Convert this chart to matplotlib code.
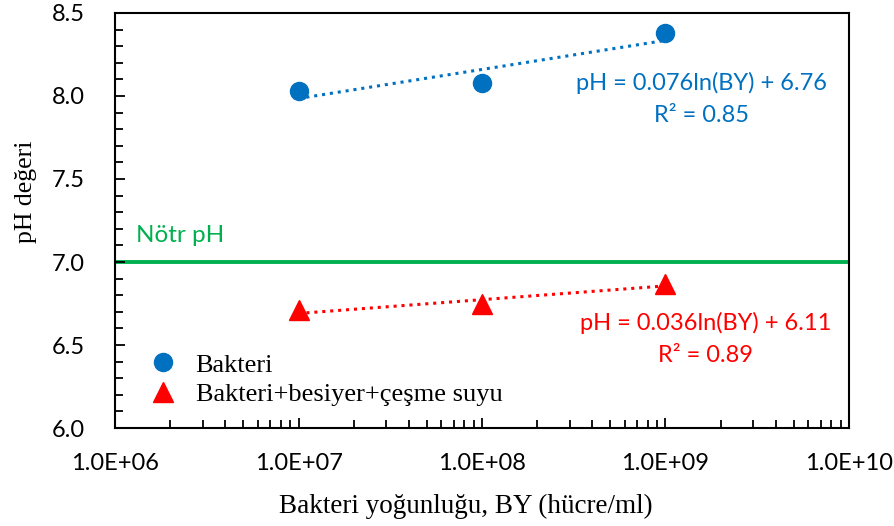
import matplotlib
matplotlib.use("Agg")
import matplotlib.pyplot as plt
import matplotlib.ticker as mticker
import numpy as np

# measured pH vs. bacteria concentration
by = [1e7, 1e8, 1e9]
ph_bakteri = [8.03, 8.08, 8.38]
ph_karisim = [6.71, 6.75, 6.87]

# logarithmic trendline coefficients (pH = a*ln(BY) + b) and R²
fit_bakteri = (0.076, 6.76, 0.85)
fit_karisim = (0.036, 6.11, 0.89)

x_ticks = [1e6, 1e7, 1e8, 1e9, 1e10]
y_ticks = [6.0, 6.5, 7.0, 7.5, 8.0, 8.5]
notr_ph = 7.0

blue = "#0070C0"
red = "#FF0000"
green = "#00B050"
sans = "Lato"
serif = "Liberation Serif"

fig = plt.figure(figsize=(8.95, 5.26), dpi=100)
ax = fig.add_axes([0.1285, 0.1863, 0.8201, 0.789])

ax.axhline(notr_ph, color=green, lw=2.8, zorder=1)
ax.text(1.3e6, 7.12, "Nötr pH", color=green, fontsize=17.5,
        family=sans, va="baseline", ha="left")

xf = np.array([by[0], by[-1]])
for (a, b, r2), col in [(fit_bakteri, blue), (fit_karisim, red)]:
    ax.plot(xf, a * np.log(xf) + b, ls=(0, (1, 1.6)), color=col, lw=2.2,
            zorder=2)

ax.plot(by, ph_bakteri, "o", color=blue, ms=13, ls="none", label="Bakteri",
        zorder=3)
ax.plot(by, ph_karisim, "^", color=red, ms=14, ls="none",
        label="Bakteri+besiyer+çeşme suyu", zorder=3)

ax.text(1.58e9, 7.985, "pH = %.3fln(BY) + %.2f\nR² = %.2f" % fit_bakteri,
        color=blue, fontsize=17, family=sans, ha="center", va="center",
        linespacing=1.65)
ax.text(1.65e9, 6.535, "pH = %.3fln(BY) + %.2f\nR² = %.2f" % fit_karisim,
        color=red, fontsize=17, family=sans, ha="center", va="center",
        linespacing=1.65)

ax.set_xscale("log")
ax.set_xlim(x_ticks[0], x_ticks[-1])
ax.set_ylim(y_ticks[0], y_ticks[-1])
ax.set_xticks(x_ticks)
ax.xaxis.set_major_formatter(mticker.FuncFormatter(
    lambda v, p: "1.0E+%02d" % int(round(np.log10(v)))))
ax.xaxis.set_minor_locator(mticker.LogLocator(base=10, subs=np.arange(2, 10)))
ax.xaxis.set_minor_formatter(mticker.NullFormatter())
ax.set_yticks(y_ticks)
ax.yaxis.set_major_formatter(mticker.FormatStrFormatter("%.1f"))
ax.yaxis.set_minor_locator(mticker.MultipleLocator(0.1))

ax.tick_params(which="both", direction="in", width=1.3)
ax.tick_params(which="major", length=7)
ax.tick_params(which="minor", length=5.5)
ax.tick_params(axis="x", which="major", pad=18)
ax.tick_params(axis="y", which="major", pad=22)
for lab in ax.get_xticklabels() + ax.get_yticklabels():
    lab.set_family(sans)
    lab.set_fontsize(17)
for sp in ax.spines.values():
    sp.set_linewidth(1.5)

ax.set_xlabel("Bakteri yoğunluğu, BY (hücre/ml)", family=serif, fontsize=19.5,
              labelpad=14)
ax.xaxis.label.set_x(0.478)
ax.set_ylabel("pH değeri", family=serif, fontsize=18.5, labelpad=10)
ax.yaxis.label.set_y(0.569)

ax.legend(loc="center left", bbox_to_anchor=(0.048, 0.117), frameon=False,
          prop={"family": serif, "size": 19}, handletextpad=0.72,
          labelspacing=0.22, handlelength=1.0, borderpad=0, borderaxespad=0)

fig.savefig("out.png", dpi=100)
